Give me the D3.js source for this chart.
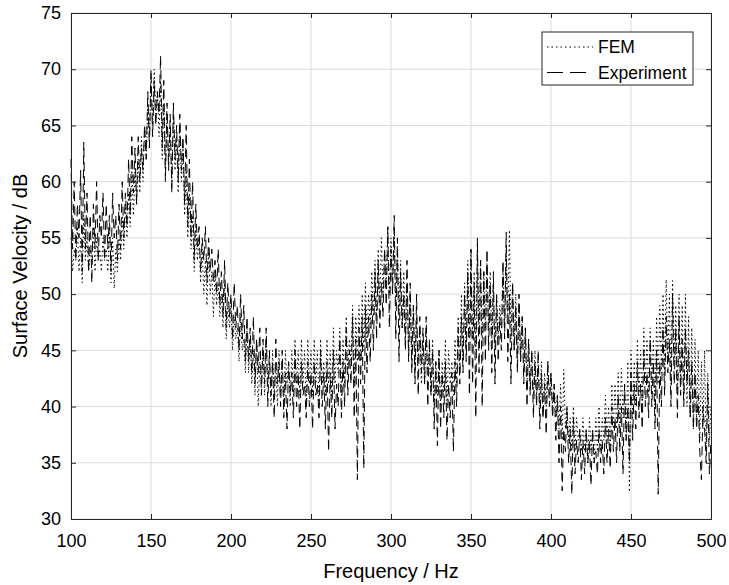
<!DOCTYPE html>
<html>
<head>
<meta charset="utf-8">
<script src="https://cdn.jsdelivr.net/npm/d3@7"></script>
<style>
  body { margin: 0; background: #fff; }
  svg { font-family: "Liberation Sans", Arial, sans-serif; }
</style>
</head>
<body>
<svg id="chart" width="729" height="585"></svg>
<script>
// frequency axis starts at 100 Hz, one sample per Hz
var freqStart = 100;
var xTicks = [100, 150, 200, 250, 300, 350, 400, 450, 500];
var yTicks = [30, 35, 40, 45, 50, 55, 60, 65, 70, 75];
var seriesNames = ["FEM", "Experiment"];

// surface velocity (dB), 100..500 Hz
var femValues = [
  55, 52, 54, 53, 56, 52, 55, 51, 57, 53,
  55, 52, 54, 53, 56, 52, 55, 53, 54, 52,
  55, 53, 54, 52, 56, 51, 55, 50.5, 54, 52,
  55, 53, 57, 54, 58, 55, 59, 56, 61, 57,
  61, 58, 62, 59, 64, 60, 65, 62, 67, 64,
  69, 65, 70, 66, 68, 64, 69, 62, 67, 61,
  66, 62, 65, 60, 66, 61, 64, 59, 65, 60,
  63, 57, 61, 55, 59, 54, 57, 52, 56, 53,
  55, 51, 54, 50, 53, 49, 54, 50, 52, 48,
  52, 49, 51, 48, 50, 47, 51, 46, 49, 47,
  49, 45, 48, 46, 47, 44, 48, 45, 46, 43,
  47, 43, 46, 42, 45, 41, 46, 40, 44, 42,
  45, 41, 46, 42, 44, 40, 45, 41, 44, 40,
  45, 41, 44, 40, 45, 42, 44, 40, 45, 41,
  46, 42, 45, 41, 46, 42, 45, 40, 46, 42,
  45, 41, 46, 42, 45, 40, 46, 42, 44, 41,
  46, 42, 45, 41, 47, 42, 45, 43, 47, 41,
  46, 42, 48, 43, 46, 44, 49, 42, 48, 44,
  49, 44, 50, 45, 51, 46, 50, 47, 52, 48,
  53, 48, 54, 49, 55, 50, 54, 51, 56, 50,
  55, 51, 56, 49, 54, 48, 53, 47, 52, 46,
  51, 45, 50, 44, 49, 43, 48, 44, 47, 42,
  46, 42, 47, 43, 45, 41, 46, 40, 44, 41,
  45, 40, 44, 41, 46, 40, 45, 42, 44, 41,
  46, 42, 48, 43, 50, 44, 51, 45, 53, 46,
  54, 46, 52, 45, 54, 47, 53, 46, 52, 47,
  53, 47, 52, 46, 51, 45, 50, 46, 49, 47,
  52, 47, 54, 48, 55.7, 46, 51, 45, 50, 44,
  49, 44, 48, 43, 47, 42, 46, 42, 45, 41,
  45, 41, 44, 40, 44, 39, 43, 40, 44, 41,
  43, 40, 42, 39, 41, 38, 42, 37, 43.3, 38,
  40, 37, 39, 36, 40, 36, 39, 37, 38, 36,
  39, 36, 38, 35, 39, 36, 38, 35, 39, 36,
  40, 36, 39, 37, 41, 37, 40, 36, 42, 38,
  42, 38, 43, 38, 43.4, 39, 42, 37, 44, 32.4,
  45, 39, 44, 40, 46, 41, 45, 40, 47, 42,
  46, 41, 47, 42, 46, 40, 48, 42, 49, 43,
  50, 43, 51.3, 44, 50, 42, 51.2, 44, 49, 41,
  50, 42, 49, 41, 50, 40, 48, 39, 47, 38,
  46, 39, 45, 37, 44, 38, 45, 36, 43, 37,
  40
];

var expValues = [
  62, 54, 60, 53, 58, 55, 61, 52, 63.5, 54,
  59, 52, 57, 51, 58, 54, 60, 53, 57, 55,
  59, 53, 58, 54, 57, 52, 59, 55, 57, 53,
  58, 54, 60, 55, 59, 56, 62, 57, 64, 59,
  63, 58, 64, 60, 63, 61, 65, 62, 68, 63,
  70, 64, 69, 65, 68, 66, 71.2, 63, 69, 60,
  67, 61, 66, 59, 67, 62, 65, 60, 66, 61,
  64, 58, 65, 56, 62, 55, 60, 53, 58, 54,
  56, 52, 55, 53, 56, 51, 55, 52, 54, 51,
  53, 50, 54, 49, 52, 48, 53, 47, 51, 48,
  50, 46, 51, 47, 49, 45, 50, 46, 49, 44,
  48, 44, 47, 43, 48, 42, 46, 43, 47, 41,
  46, 42, 47, 40, 45, 41, 44, 39, 46, 42,
  44, 40, 45, 39, 43, 38, 44, 41, 43, 39,
  45, 40, 43, 38, 44, 41, 42, 39, 44, 40,
  43, 38, 44, 41, 42, 39, 45, 40, 43, 38,
  44, 36, 43, 39, 45, 38, 42, 40, 46, 39,
  44, 40, 47, 41, 45, 42, 48, 39, 46, 33.5,
  47, 42, 48, 34.5, 49, 43, 48, 44, 50, 45,
  52, 46, 53, 47, 51, 48, 54, 49, 56, 47,
  54, 50, 57, 46, 55, 44, 52, 47, 50, 45,
  53, 44, 51, 43, 49, 42, 50, 41, 48, 43,
  47, 42, 48, 40, 46, 41, 45, 38, 44, 36.5,
  45, 38, 43, 39, 44, 37, 42, 39, 43, 36,
  44, 40, 47, 42, 48, 43, 50, 44, 52, 41,
  54, 42, 51, 39, 55, 43, 53, 40, 52, 44,
  54, 45, 51, 43, 52, 42, 50, 44, 48, 45,
  53, 46, 55.5, 44, 50, 42, 51, 45, 49, 43,
  50, 44, 48, 42, 47, 40, 46, 41, 45, 39,
  44, 40, 45, 38, 43, 39, 42, 37.5, 44, 40,
  43, 39, 42, 37, 41, 35, 40, 32.5, 38, 36,
  40, 35, 38, 32.2, 39, 34, 37, 35, 38, 33.5,
  37, 34, 38, 35, 37, 33, 38, 35, 36, 34,
  38, 35, 37, 34, 39, 35, 38, 34.5, 40, 36,
  39, 35, 41, 36, 40, 34, 42, 37, 40, 35,
  43, 37, 42, 38, 44, 39, 42, 38, 45, 40,
  43, 39, 46, 40, 44, 38, 45, 32.2, 44, 40,
  47, 41, 48, 43, 46, 40, 50, 42, 47, 39,
  48, 41, 46, 40, 47, 42, 45, 39, 44, 38,
  43, 38, 41, 36, 33.5, 40, 38, 35, 42, 34,
  37
];

var margin = {top: 13, right: 18, bottom: 66, left: 71};
var width = 729 - margin.left - margin.right,
    height = 585 - margin.top - margin.bottom;

var svg = d3.select("#chart");
var g = svg.append("g")
    .attr("transform", "translate(" + margin.left + "," + margin.top + ")");

var x = d3.scaleLinear().domain([100, 500]).range([0, width]);
var y = d3.scaleLinear().domain([30, 75]).range([height, 0]);

// grid
g.append("g").selectAll("line")
    .data(xTicks).enter().append("line")
    .attr("x1", d => x(d)).attr("x2", d => x(d))
    .attr("y1", 0).attr("y2", height)
    .attr("stroke", "#dcdcdc").attr("stroke-width", 1);
g.append("g").selectAll("line")
    .data(yTicks).enter().append("line")
    .attr("x1", 0).attr("x2", width)
    .attr("y1", d => y(d)).attr("y2", d => y(d))
    .attr("stroke", "#dcdcdc").attr("stroke-width", 1);

// data lines
var line = d3.line()
    .x((d, i) => x(freqStart + i))
    .y(d => y(d));

g.append("path")
    .datum(femValues)
    .attr("d", line)
    .attr("fill", "none")
    .attr("stroke", "#000")
    .attr("stroke-width", 1)
    .attr("stroke-dasharray", "1.5,3");

g.append("path")
    .datum(expValues)
    .attr("d", line)
    .attr("fill", "none")
    .attr("stroke", "#000")
    .attr("stroke-width", 1)
    .attr("stroke-dasharray", "9,5");

// axes (matlab style, ticks inside, on all sides)
var xAxis = d3.axisBottom(x).tickValues(xTicks).tickSize(-5).tickPadding(15);
var yAxis = d3.axisLeft(y).tickValues(yTicks).tickSize(-5).tickPadding(10);

g.append("g").attr("transform", "translate(0," + height + ")").call(xAxis);
g.append("g").call(yAxis);
g.append("g").call(d3.axisTop(x).tickValues(xTicks).tickSize(-5).tickFormat(""));
g.append("g").attr("transform", "translate(" + width + ",0)")
    .call(d3.axisRight(y).tickValues(yTicks).tickSize(-5).tickFormat(""));

g.selectAll(".domain").attr("stroke", "#262626");
g.selectAll(".tick line").attr("stroke", "#262626");
g.selectAll(".tick text")
    .attr("font-size", 18)
    .attr("font-family", "Liberation Sans, Arial, sans-serif")
    .attr("fill", "#000");

// axis labels
svg.append("text")
    .attr("x", margin.left + width / 2)
    .attr("y", 578)
    .attr("text-anchor", "middle")
    .attr("font-size", 20)
    .text("Frequency / Hz");

svg.append("text")
    .attr("transform", "translate(27," + (margin.top + height / 2) + ") rotate(-90)")
    .attr("text-anchor", "middle")
    .attr("font-size", 20)
    .text("Surface Velocity / dB");

// legend
var legend = svg.append("g").attr("transform", "translate(542,32)");
legend.append("rect")
    .attr("width", 151).attr("height", 53)
    .attr("fill", "#fff").attr("stroke", "#262626").attr("stroke-width", 1);

var styles = ["1.5,3", "16,7"];
seriesNames.forEach(function(name, i) {
    var cy = 15 + i * 25.5;
    legend.append("line")
        .attr("x1", 5).attr("x2", 51)
        .attr("y1", cy).attr("y2", cy)
        .attr("stroke", "#000").attr("stroke-width", 1)
        .attr("stroke-dasharray", styles[i]);
    legend.append("text")
        .attr("x", 56).attr("y", cy + 6)
        .attr("font-size", 17.5)
        .text(name);
});
</script>
</body>
</html>
